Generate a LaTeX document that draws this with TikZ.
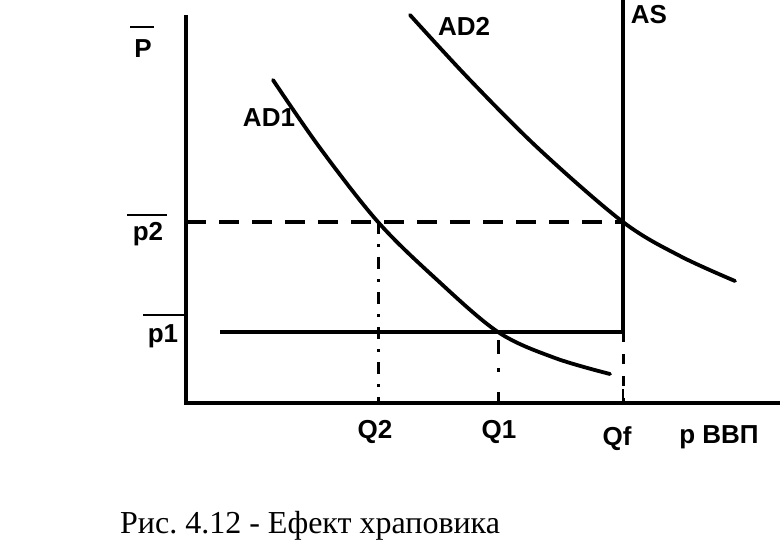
\documentclass[tikz,border=0pt]{standalone}
\usepackage{fontspec}
\setmainfont{Liberation Serif}
\newfontfamily\lab{Liberation Sans}
\begin{document}
\begin{tikzpicture}[x=1pt,y=-1pt,
  lbl/.style={font=\lab\bfseries\fontsize{26}{28}\selectfont, inner sep=0pt, anchor=base},
  thick line/.style={line width=3.2pt},
  curve/.style={line width=3.8pt, line cap=round},
  dashline/.style={line width=3.2pt, dash pattern=on 20pt off 13pt},
  dashdot/.style={line width=3pt, dash pattern=on 12pt off 10pt on 3pt off 10pt},
  bar/.style={line width=2pt}]
\useasboundingbox (0,0) rectangle (783,548);
% axes
\coordinate (O) at (186,403);
\coordinate (Ytop) at (186,15);
\coordinate (Xend) at (780,403);
\draw[thick line] (Ytop) -- (O) -- (Xend);
% AS
\coordinate (AStop) at (623,0);
\coordinate (ASp1) at (623,332);
\coordinate (ASbot) at (623,403);
\draw[thick line] (AStop) -- (ASp1);
\draw[line width=3pt, dash pattern=on 10pt off 12pt] (ASp1) -- (ASbot);
\node[lbl] (AS) at (649,24) {AS};
% p2 dashed
\coordinate (p2L) at (186,222);
\coordinate (p2R) at (623,222);
\draw[dashline] (p2L) -- (p2R);
% p1 line
\coordinate (p1L) at (220,332);
\draw[thick line] (p1L) -- (ASp1);
% Q verticals
\coordinate (q2t) at (378,222);
\coordinate (q2b) at (378,403);
\draw[dashdot] (q2t) -- (q2b);
\coordinate (q1t) at (498,340);
\coordinate (q1b) at (498,403);
\draw[line width=3pt, dash pattern=on 14pt off 14pt on 4pt off 20pt] (q1t) -- (q1b);
\draw[bar] (623,389) -- (623,403);
% AD curves
\draw[curve] plot[smooth, tension=0.55] coordinates {(273,80) (320,148) (378,222) (435,278) (498,332) (555,358) (610,374)};
\draw[curve] plot[smooth, tension=0.55] coordinates {(410,15) (470,80) (540,150) (623,222) (680,256) (735,281)};
% labels
\node[lbl] (AD1) at (269,127) {AD1};
\node[lbl] (AD2) at (464,36) {AD2};
\node[lbl] (P) at (143,58) {P};
\draw[bar] (130,27) -- (154,27);
\node[lbl] (p2) at (148,240) {p2};
\draw[bar] (127,215) -- (167,215);
\node[lbl] (p1) at (163,342) {p1};
\draw[bar] (143,315) -- (186,315);
\node[lbl] (Q2) at (375,438) {Q2};
\node[lbl] (Q1) at (499,438) {Q1};
\node[lbl] (Qf) at (617,445) {Qf};
\node[lbl] (pV) at (719,443) {p ВВП};
\node[font=\fontsize{32}{34}\selectfont, anchor=base west, inner sep=0pt] (cap) at (120,533) {Рис.\ 4.12 - Ефект храповика};
\end{tikzpicture}
\end{document}
